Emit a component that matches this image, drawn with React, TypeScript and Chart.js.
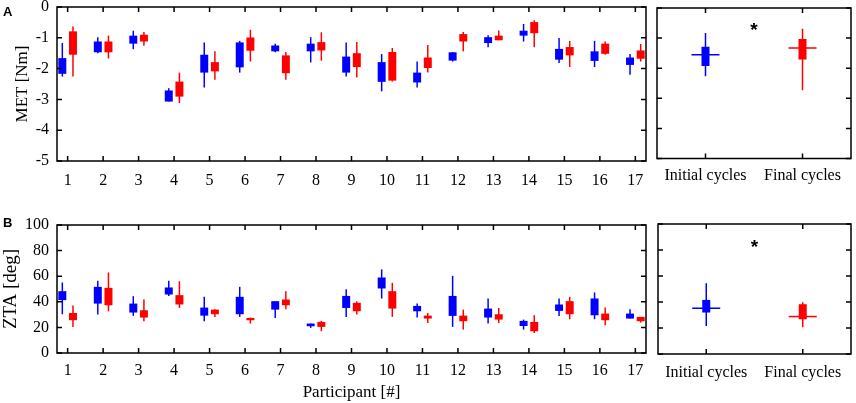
import { useEffect, useRef } from "react";
import { Chart, registerables } from "chart.js";

Chart.register(...registerables);

const participants = ["1", "2", "3", "4", "5", "6", "7", "8", "9", "10", "11", "12", "13", "14", "15", "16", "17"];
const summaryLabels = ["Initial cycles", "Final cycles"];

// each row: [lower whisker, box bottom, box top, upper whisker]
const metInitial = [
  [-2.26, -2.17, -1.66, -1.17], [-1.5, -1.47, -1.12, -0.98], [-1.37, -1.19, -0.93, -0.77],
  [-3.07, -3.07, -2.71, -2.64], [-2.61, -2.13, -1.55, -1.15], [-2.13, -1.96, -1.15, -1.1],
  [-1.47, -1.44, -1.25, -1.19], [-1.8, -1.44, -1.19, -0.98], [-2.26, -2.13, -1.61, -1.15],
  [-2.74, -2.43, -1.79, -1.53], [-2.61, -2.45, -2.13, -1.77], [-1.77, -1.74, -1.47, -1.46],
  [-1.31, -1.17, -0.98, -0.92], [-1.12, -0.93, -0.77, -0.55], [-1.82, -1.71, -1.36, -1.01],
  [-1.95, -1.75, -1.44, -1.1], [-2.2, -1.88, -1.64, -1.53],
];
const metFinal = [
  [-2.26, -1.55, -0.79, -0.63], [-1.67, -1.47, -1.12, -0.93], [-1.26, -1.12, -0.9, -0.81],
  [-3.12, -2.91, -2.42, -2.13], [-2.36, -2.09, -1.79, -1.44], [-1.77, -1.42, -0.99, -0.74],
  [-2.36, -2.15, -1.57, -1.46], [-1.74, -1.41, -1.14, -0.82], [-2.29, -1.95, -1.5, -1.14],
  [-2.42, -2.39, -1.46, -1.33], [-2.13, -1.98, -1.64, -1.23], [-1.44, -1.12, -0.88, -0.81],
  [-1.08, -1.08, -0.93, -0.76], [-1.31, -0.85, -0.49, -0.43], [-1.95, -1.57, -1.3, -1.1],
  [-1.55, -1.52, -1.19, -1.12], [-1.77, -1.68, -1.41, -1.2],
];
const ztaInitial = [
  [30.3, 41.3, 48.3, 55.1], [30.0, 38.6, 51.7, 56.4], [29.0, 31.6, 38.6, 44.4],
  [44.6, 45.7, 51.2, 56.4], [24.8, 29.2, 35.5, 43.9], [28.2, 30.3, 43.9, 51.7],
  [27.4, 33.9, 40.5, 40.5], [19.6, 20.9, 23.0, 23.0], [28.2, 35.2, 44.6, 49.9],
  [42.6, 50.4, 59.0, 65.3], [27.7, 32.6, 36.8, 38.6], [20.4, 29.0, 44.6, 60.3],
  [23.0, 27.7, 34.7, 42.6], [18.3, 21.1, 25.1, 26.1], [29.0, 32.9, 37.9, 42.6],
  [26.4, 29.5, 42.6, 47.3], [26.9, 26.9, 30.8, 34.2],
];
const ztaFinal = [
  [20.4, 25.6, 31.3, 37.1], [32.6, 37.3, 50.9, 62.9], [24.8, 27.7, 33.4, 41.8],
  [35.2, 37.9, 45.2, 56.1], [28.2, 30.3, 33.9, 34.2], [23.0, 25.6, 27.4, 27.7],
  [34.2, 37.3, 41.8, 48.3], [17.0, 20.4, 24.3, 25.1], [30.0, 32.6, 39.2, 40.5],
  [28.2, 34.7, 48.3, 54.8], [23.5, 26.9, 29.2, 31.3], [18.3, 24.8, 29.2, 33.9],
  [23.5, 26.1, 30.3, 35.2], [15.7, 17.0, 24.3, 29.5], [26.4, 30.3, 40.5, 43.9],
  [21.7, 25.6, 30.8, 35.5], [23.8, 24.8, 28.2, 28.2],
];

// pooled: [lower whisker, box bottom, box top, upper whisker], medians [initial, final]
const metPooled = [[-2.27, -1.93, -1.29, -0.83], [-2.73, -1.71, -1.03, -0.69]];
const metPooledMedian = [-1.55, -1.33];
const ztaPooled = [[21.6, 31.9, 41.6, 54.5], [20.6, 26.7, 38.3, 39.8]];
const ztaPooledMedian = [35.2, 28.8];
const metStar = -0.6;
const ztaStar = 85;

const BLUE = "#0000ff";
const RED = "#ff0000";
const SERIF = "'Liberation Serif', 'Times New Roman', serif";

const framePlugin = {
  id: "frame",
  afterDatasetsDraw(chart: any, _args: any, opts: any) {
    const { ctx, chartArea, scales } = chart;
    const { left, right, top, bottom } = chartArea;
    ctx.save();
    ctx.strokeStyle = "#000";
    ctx.lineWidth = 1.5;
    ctx.strokeRect(left, top, right - left, bottom - top);
    const len = 5;
    ctx.beginPath();
    scales.x.ticks.forEach((t: any) => {
      const px = scales.x.getPixelForValue(t.value);
      ctx.moveTo(px, bottom);
      ctx.lineTo(px, bottom - len);
      ctx.moveTo(px, top);
      ctx.lineTo(px, top + len);
    });
    scales.y.ticks.forEach((t: any) => {
      const py = scales.y.getPixelForValue(t.value);
      ctx.moveTo(left, py);
      ctx.lineTo(left + len, py);
      ctx.moveTo(right, py);
      ctx.lineTo(right - len, py);
    });
    ctx.stroke();
    if (opts && opts.star !== undefined) {
      const px = scales.x.getPixelForValue(1.5);
      const py = scales.y.getPixelForValue(opts.star);
      ctx.fillStyle = "#000";
      ctx.font = "bold 19px 'Liberation Sans', Arial, sans-serif";
      ctx.textAlign = "center";
      ctx.textBaseline = "alphabetic";
      const m = ctx.measureText("*");
      ctx.fillText("*", px, py + (m.actualBoundingBoxAscent - m.actualBoundingBoxDescent) / 2);
    }
    ctx.restore();
  },
};

interface PanelProps {
  left: number;
  top: number;
  width: number;
  height: number;
  padding: { top: number; left: number; right: number };
  xHeight: number;
  yWidth: number;
  yMin: number;
  yMax: number;
  yStep: number;
  yTitle?: string;
  yTitleSize?: number;
  yTitlePad?: number;
  xTitle?: string;
  labelPad: number;
  pooled: boolean;
  initial: number[][];
  final: number[][];
  medians?: number[];
  star?: number;
}

const Panel = (p: PanelProps) => {
  const canvasRef = useRef<HTMLCanvasElement>(null);

  useEffect(() => {
    if (!canvasRef.current) return;
    const font = { family: SERIF, size: 16 };
    let datasets: any[];
    let xMin: number, xMax: number, xLabels: string[];

    if (!p.pooled) {
      xMin = 0.7;
      xMax = 17.3;
      xLabels = participants;
      const box = (rows: number[][], color: string, stack: string) => ({
        type: "bar",
        data: rows.map((r, i) => ({ x: i + 1, y: [r[1], r[2]] })),
        backgroundColor: color,
        stack,
        order: 0,
        categoryPercentage: 0.6,
        barPercentage: 0.75,
      });
      const whisker = (rows: number[][], color: string, stack: string) => ({
        type: "bar",
        data: rows.map((r, i) => ({ x: i + 1, y: [r[0], r[3]] })),
        backgroundColor: color,
        stack,
        order: 1,
        categoryPercentage: 0.6,
        barPercentage: 0.14,
      });
      datasets = [
        box(p.initial, BLUE, "initial"),
        box(p.final, RED, "final"),
        whisker(p.initial, BLUE, "initial"),
        whisker(p.final, RED, "final"),
      ];
    } else {
      xMin = 0.5;
      xMax = 2.5;
      xLabels = summaryLabels;
      const colors = [BLUE, RED];
      datasets = [];
      [p.initial, p.final].forEach((rows, k) => {
        datasets.push({
          type: "bar",
          data: rows.map((r) => ({ x: k + 1, y: [r[1], r[2]] })),
          backgroundColor: colors[k],
          grouped: false,
          maxBarThickness: 8,
          order: 1,
        });
        datasets.push({
          type: "bar",
          data: rows.map((r) => ({ x: k + 1, y: [r[0], r[3]] })),
          backgroundColor: colors[k],
          grouped: false,
          maxBarThickness: 1.5,
          order: 2,
        });
        datasets.push({
          type: "scatter",
          data: [{ x: k + 1, y: (p.medians || [])[k] }],
          pointStyle: "line",
          pointRadius: 14,
          borderColor: colors[k],
          borderWidth: 1.5,
          order: 0,
        });
      });
    }

    const config: any = {
      type: "bar",
      data: { datasets },
      plugins: [framePlugin],
      options: {
        responsive: false,
        animation: false,
        events: [],
        layout: {
          autoPadding: false,
          padding: { top: p.padding.top, left: p.padding.left, right: p.padding.right, bottom: 0 },
        },
        plugins: {
          legend: { display: false },
          tooltip: { enabled: false },
          frame: { star: p.star },
        },
        scales: {
          x: {
            type: "linear",
            min: xMin,
            max: xMax,
            offset: false,
            grid: { display: false, drawTicks: false },
            border: { display: false },
            afterBuildTicks: (s: any) => {
              s.ticks = xLabels.map((_, i) => ({ value: i + 1 }));
            },
            ticks: {
              callback: (v: number) => xLabels[Math.round(v) - 1],
              font,
              color: "#000",
              padding: p.labelPad,
              autoSkip: false,
              maxRotation: 0,
            },
            title: p.xTitle
              ? { display: true, text: p.xTitle, font: { family: SERIF, size: 17 }, color: "#000", padding: { top: 0, bottom: 0 } }
              : { display: false },
            afterFit: (s: any) => {
              s.height = p.xHeight;
              s.paddingLeft = 0;
              s.paddingRight = 0;
            },
          },
          y: {
            type: "linear",
            min: p.yMin,
            max: p.yMax,
            stacked: false,
            grid: { display: false, drawTicks: false },
            border: { display: false },
            ticks: { stepSize: p.yStep, font, color: "#000", padding: 8, display: !p.pooled },
            title: p.yTitle
              ? { display: true, text: p.yTitle, font: { family: SERIF, size: p.yTitleSize || 17 }, color: "#000", padding: { top: p.yTitlePad || 0, bottom: 0 } }
              : { display: false },
            afterFit: (s: any) => {
              s.width = p.yWidth;
              s.paddingTop = 0;
              s.paddingBottom = 0;
            },
          },
        },
      },
    };

    const chart = new Chart(canvasRef.current, config);
    return () => chart.destroy();
  }, []);

  return (
    <canvas
      ref={canvasRef}
      width={p.width}
      height={p.height}
      style={{ position: "absolute", left: p.left, top: p.top, width: p.width, height: p.height }}
    />
  );
};

const letterStyle: any = {
  position: "absolute",
  fontFamily: "'Liberation Sans', Arial, sans-serif",
  fontWeight: "bold",
  fontSize: 13,
  lineHeight: "13px",
};

export default function App() {
  useEffect(() => {
    document.body.style.margin = "0";
  }, []);

  return (
    <div style={{ position: "relative", width: 856, height: 403, background: "#fff" }}>
      <Panel
        left={0} top={0} width={652} height={200}
        padding={{ top: 7, left: 0, right: 6 }} xHeight={39} yWidth={57}
        yMin={-5} yMax={0} yStep={1} yTitle="MET [Nm]" yTitleSize={17} yTitlePad={12}
        labelPad={10} pooled={false} initial={metInitial} final={metFinal}
      />
      <Panel
        left={650} top={0} width={206} height={200}
        padding={{ top: 8, left: 7, right: 5 }} xHeight={41.5} yWidth={0}
        yMin={-5} yMax={0} yStep={1}
        labelPad={8} pooled={true} initial={[metPooled[0]]} final={[metPooled[1]]}
        medians={metPooledMedian} star={metStar}
      />
      <Panel
        left={0} top={200} width={652} height={203}
        padding={{ top: 25, left: 0, right: 6 }} xHeight={50} yWidth={57}
        yMin={0} yMax={100} yStep={20} yTitle="ZTA [deg]" yTitleSize={19} yTitlePad={0}
        xTitle="Participant [#]"
        labelPad={8} pooled={false} initial={ztaInitial} final={ztaFinal}
      />
      <Panel
        left={650} top={200} width={206} height={203}
        padding={{ top: 24, left: 8, right: 5 }} xHeight={49} yWidth={0}
        yMin={0} yMax={100} yStep={20}
        labelPad={9} pooled={true} initial={[ztaPooled[0]]} final={[ztaPooled[1]]}
        medians={ztaPooledMedian} star={ztaStar}
      />
      <div style={{ ...letterStyle, left: 3, top: 5 }}>A</div>
      <div style={{ ...letterStyle, left: 3, top: 216 }}>B</div>
    </div>
  );
}
